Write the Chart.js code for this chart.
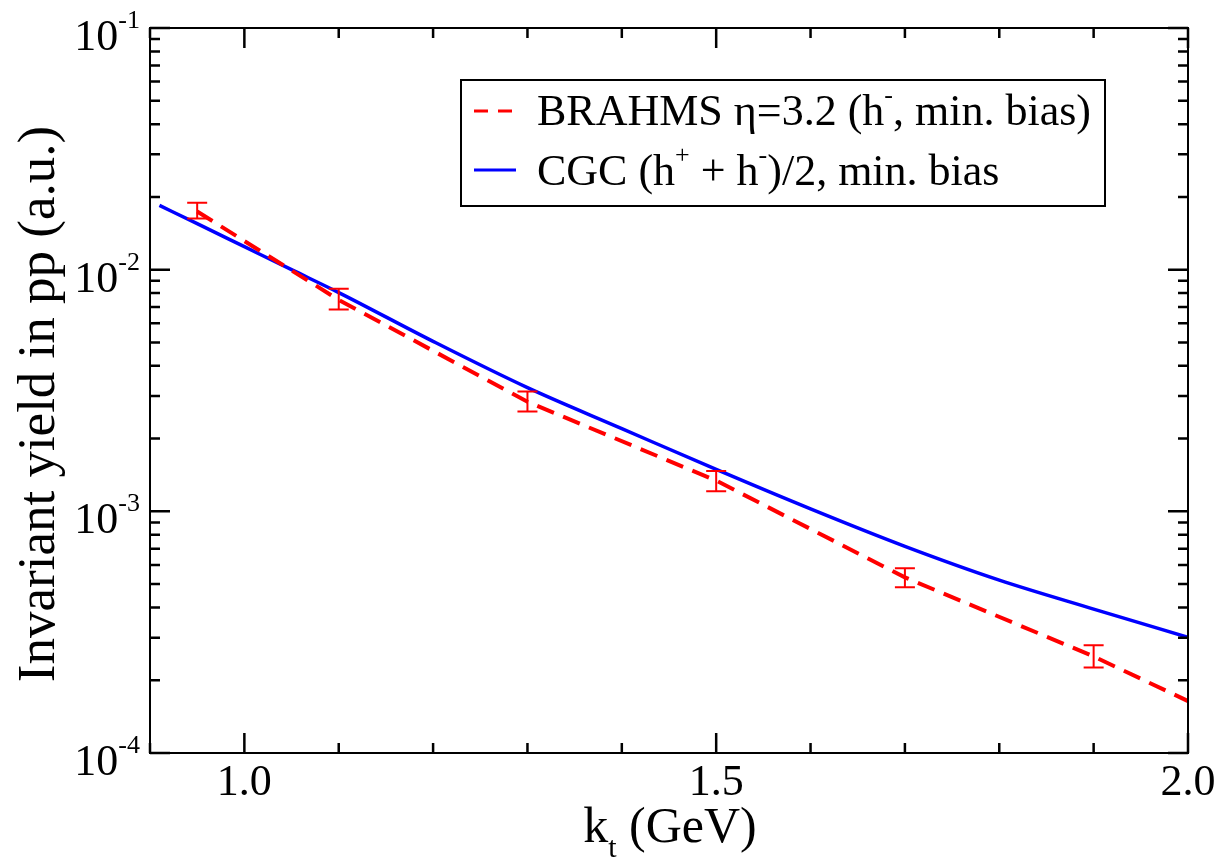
<!DOCTYPE html>
<html lang="en">
<head>
    <meta charset="UTF-8">
    <title>Invariant yield in pp</title>
    <script src="https://cdn.jsdelivr.net/npm/chart.js"></script>
    <style>
        body { margin: 0; background: #fff; }
        #chart { display: block; }
    </style>
</head>
<body>
    <canvas id="chart" width="1229" height="867"></canvas>

    <script>
        // BRAHMS data points (eta = 3.2, h-, min. bias)
        const brahmsKt = [0.95, 1.1, 1.3, 1.5, 1.7, 1.9];
        const brahmsYield = [1.75e-2, 7.5e-3, 2.84e-3, 1.34e-3, 5.33e-4, 2.51e-4];
        const brahmsLow = [1.63e-2, 6.84e-3, 2.59e-3, 1.21e-3, 4.85e-4, 2.26e-4];
        const brahmsHigh = [1.89e-2, 8.34e-3, 3.13e-3, 1.47e-3, 5.81e-4, 2.79e-4];

        // dashed curve drawn through the data
        const brahmsLineKt = [0.95, 1.1, 1.3, 1.5, 1.7, 1.9, 2.0];
        const brahmsLineYield = [1.74e-2, 7.5e-3, 2.84e-3, 1.34e-3, 5.33e-4, 2.51e-4, 1.64e-4];

        // CGC (h+ + h-)/2 curve
        const cgcKt = [0.91, 0.95, 1.0, 1.05, 1.1, 1.2, 1.3, 1.4, 1.5, 1.6, 1.7, 1.8, 1.9, 2.0];
        const cgcYield = [1.845e-2, 1.55e-2, 1.245e-2, 1.0e-2, 8.04e-3, 5.05e-3, 3.25e-3, 2.2e-3,
                          1.49e-3, 1.023e-3, 7.16e-4, 5.19e-4, 3.94e-4, 3.01e-4];

        // axis ticks
        const xMajorTicks = [1.0, 1.5, 2.0];
        const xMinorTicks = [0.9, 1.0, 1.1, 1.2, 1.3, 1.4, 1.5, 1.6, 1.7, 1.8, 1.9, 2.0];
        const xTickLabels = ['1.0', '1.5', '2.0'];
        const yMajorTicks = [1e-4, 1e-3, 1e-2, 1e-1];
        const yExponents = ['-4', '-3', '-2', '-1'];

        const FONT = '"Liberation Serif", "Times New Roman", serif';

        function toPoints(xs, ys) {
            return xs.map((x, i) => ({ x: x, y: ys[i] }));
        }

        // draw a run of text pieces, some raised as superscripts
        function drawRich(ctx, parts, x, y, size) {
            let cx = x;
            parts.forEach(p => {
                const s = p.sup ? Math.round(size * 0.6) : size;
                ctx.font = s + 'px ' + FONT;
                ctx.fillText(p.t, cx, p.sup ? y - size * 0.5 : y);
                cx += ctx.measureText(p.t).width;
            });
        }

        const errorBars = {
            id: 'errorBars',
            afterDatasetsDraw(chart) {
                const ctx = chart.ctx, xs = chart.scales.x, ys = chart.scales.y;
                ctx.save();
                ctx.strokeStyle = '#ff0000';
                ctx.lineWidth = 2;
                for (let i = 0; i < brahmsKt.length; i++) {
                    const px = xs.getPixelForValue(brahmsKt[i]);
                    const top = ys.getPixelForValue(brahmsHigh[i]);
                    const bot = ys.getPixelForValue(brahmsLow[i]);
                    ctx.beginPath();
                    ctx.moveTo(px, top); ctx.lineTo(px, bot);
                    ctx.moveTo(px - 10, top); ctx.lineTo(px + 10, top);
                    ctx.moveTo(px - 10, bot); ctx.lineTo(px + 10, bot);
                    ctx.stroke();
                }
                ctx.restore();
            }
        };

        const frame = {
            id: 'frame',
            afterDraw(chart) {
                const ctx = chart.ctx, a = chart.chartArea;
                const xs = chart.scales.x, ys = chart.scales.y;
                ctx.save();
                ctx.strokeStyle = '#000';
                ctx.fillStyle = '#000';

                // inward ticks on all four sides
                ctx.lineWidth = 2.5;
                ctx.beginPath();
                xMinorTicks.forEach(v => {
                    const len = xMajorTicks.includes(v) ? 20 : 10;
                    const px = xs.getPixelForValue(v);
                    ctx.moveTo(px, a.bottom); ctx.lineTo(px, a.bottom - len);
                    ctx.moveTo(px, a.top); ctx.lineTo(px, a.top + len);
                });
                yMajorTicks.forEach(d => {
                    for (let m = 1; m <= 9; m++) {
                        const v = d * m;
                        if (v > 1e-1 + 1e-12) break;
                        const len = m === 1 ? 20 : 10;
                        const py = ys.getPixelForValue(v);
                        ctx.moveTo(a.left, py); ctx.lineTo(a.left + len, py);
                        ctx.moveTo(a.right, py); ctx.lineTo(a.right - len, py);
                    }
                });
                ctx.stroke();

                // frame
                ctx.lineWidth = 2;
                ctx.strokeRect(a.left, a.top, a.right - a.left, a.bottom - a.top);

                // x tick labels
                ctx.font = '44px ' + FONT;
                ctx.textAlign = 'center';
                ctx.textBaseline = 'alphabetic';
                xMajorTicks.forEach((v, i) => {
                    ctx.fillText(xTickLabels[i], xs.getPixelForValue(v), a.bottom + 42);
                });

                // y tick labels 10^n
                ctx.textAlign = 'left';
                yMajorTicks.forEach((v, i) => {
                    const py = ys.getPixelForValue(v);
                    ctx.font = '44px ' + FONT;
                    const w10 = ctx.measureText('10').width;
                    ctx.font = '26px ' + FONT;
                    const wExp = ctx.measureText(yExponents[i]).width;
                    const x0 = a.left - 10 - wExp - w10;
                    drawRich(ctx, [{ t: '10' }, { t: yExponents[i], sup: true }], x0, py + 22, 44);
                });

                // axis titles
                ctx.textAlign = 'left';
                ctx.font = '50px ' + FONT;
                const kW = ctx.measureText('k').width;
                const restW = ctx.measureText(' (GeV)').width;
                ctx.font = '30px ' + FONT;
                const tW = ctx.measureText('t').width;
                const tx = 670 - (kW + tW + restW) / 2;
                ctx.font = '50px ' + FONT;
                ctx.fillText('k', tx, 842);
                ctx.font = '30px ' + FONT;
                ctx.fillText('t', tx + kW, 857);
                ctx.font = '50px ' + FONT;
                ctx.fillText(' (GeV)', tx + kW + tW, 842);

                ctx.save();
                ctx.translate(54, 404);
                ctx.rotate(-Math.PI / 2);
                ctx.textAlign = 'center';
                ctx.font = '53px ' + FONT;
                ctx.fillText('Invariant yield in pp (a.u.)', 0, 0);
                ctx.restore();

                // legend
                const lx = 461, ly = 80, lw = 644, lh = 126;
                ctx.fillStyle = '#fff';
                ctx.fillRect(lx, ly, lw, lh);
                ctx.lineWidth = 2;
                ctx.strokeStyle = '#000';
                ctx.strokeRect(lx, ly, lw, lh);

                ctx.lineWidth = 3;
                ctx.strokeStyle = '#ff0000';
                ctx.setLineDash([14, 10]);
                ctx.beginPath(); ctx.moveTo(474, 111); ctx.lineTo(516, 111); ctx.stroke();
                ctx.setLineDash([]);
                ctx.strokeStyle = '#0000ff';
                ctx.beginPath(); ctx.moveTo(474, 170); ctx.lineTo(516, 170); ctx.stroke();

                ctx.fillStyle = '#000';
                ctx.textAlign = 'left';
                drawRich(ctx, [{ t: 'BRAHMS \u03b7=3.2 (h' }, { t: '-', sup: true }, { t: ', min. bias)' }], 537, 125, 44);
                drawRich(ctx, [{ t: 'CGC (h' }, { t: '+', sup: true }, { t: ' + h' }, { t: '-', sup: true }, { t: ')/2, min. bias' }], 537, 185, 44);

                ctx.restore();
            }
        };

        new Chart(document.getElementById('chart').getContext('2d'), {
            type: 'line',
            data: {
                datasets: [
                    {
                        label: 'BRAHMS \u03b7=3.2 (h-, min. bias)',
                        data: toPoints(brahmsLineKt, brahmsLineYield),
                        borderColor: '#ff0000',
                        borderWidth: 4,
                        borderDash: [18, 10],
                        pointRadius: 0,
                        tension: 0
                    },
                    {
                        label: 'CGC (h+ + h-)/2, min. bias',
                        data: toPoints(cgcKt, cgcYield),
                        borderColor: '#0000ff',
                        borderWidth: 3.5,
                        pointRadius: 0,
                        cubicInterpolationMode: 'monotone'
                    }
                ]
            },
            options: {
                responsive: false,
                animation: false,
                devicePixelRatio: 1,
                layout: { padding: { left: 150, top: 28, right: 41, bottom: 114 } },
                scales: {
                    x: { type: 'linear', min: 0.9, max: 2.0, display: false },
                    y: { type: 'logarithmic', min: 1e-4, max: 1e-1, display: false }
                },
                plugins: {
                    legend: { display: false },
                    tooltip: { enabled: false }
                }
            },
            plugins: [errorBars, frame]
        });
    </script>
</body>
</html>
